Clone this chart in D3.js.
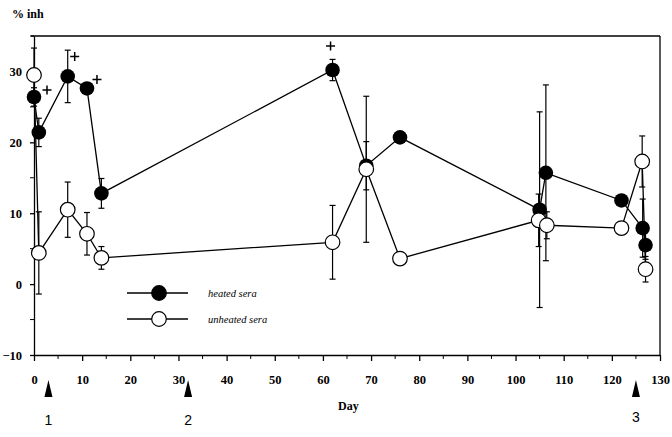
<!DOCTYPE html>
<html>
<head>
<meta charset="utf-8">
<script src="https://cdn.jsdelivr.net/npm/d3@7"></script>
<style>
  body { margin: 0; background: #fff; }
  svg { display: block; }
</style>
</head>
<body>
<svg id="chart" width="672" height="437"></svg>
<script>
// heated sera (filled)
const heatedDay = [0, 1, 7, 11, 14, 62, 69, 76, 105, 106.3, 122, 126.4, 127];
const heatedVal = [26.4, 21.4, 29.3, 27.6, 12.8, 30.2, 16.7, 20.7, 10.5, 15.7, 11.8, 7.9, 5.5];
const heatedErr = [1.3, 2.0, 3.7, 0, 2.1, 1.5, 3.4, 0, 13.8, 12.4, 0, 4.1, 2.0];

// unheated sera (open)
const unheatedDay = [0, 1, 7, 11, 14, 62, 69, 76, 104.8, 106.5, 122, 126.3, 127];
const unheatedVal = [29.5, 4.4, 10.5, 7.1, 3.7, 5.9, 16.2, 3.6, 9.0, 8.3, 7.9, 17.3, 2.1];
const unheatedErr = [3.8, 5.8, 3.9, 3.0, 1.6, 5.2, 10.3, 0, 3.7, 1.9, 0, 3.6, 1.8];

// significance marks on heated points
const plusDay = [0, 7, 11, 62];

// immunisation arrows
const arrowDay = [3, 32, 125];
const arrowLabel = ["1", "2", "3"];

const xTicks = d3.range(0, 131, 10);
const yTicks = [-10, 0, 10, 20, 30];

const svg = d3.select("#chart");
const serif = "Liberation Serif, Times New Roman, serif";

const x = d3.scaleLinear().domain([0, 130]).range([34, 660]);
const y = d3.scaleLinear().domain([-10, 35]).range([355, 36]);

const heated = heatedDay.map((d, i) => ({day: d, val: heatedVal[i], err: heatedErr[i]}));
const unheated = unheatedDay.map((d, i) => ({day: d, val: unheatedVal[i], err: unheatedErr[i]}));

// frame top / right
svg.append("line")
	.attr("x1", 31).attr("x2", x(130))
	.attr("y1", y(35)).attr("y2", y(35))
	.attr("stroke", "#000").attr("stroke-width", 1.3);
svg.append("line")
	.attr("x1", x(130)).attr("x2", x(130))
	.attr("y1", y(35)).attr("y2", y(-10))
	.attr("stroke", "#000").attr("stroke-width", 1.3);

// axes
const xAxis = svg.append("g")
	.attr("transform", `translate(0,${y(-10)})`)
	.call(d3.axisBottom(x).tickValues(xTicks).tickSize(6).tickSizeOuter(0).tickPadding(14));
xAxis.append("g").selectAll("line")
	.data(d3.range(5, 130, 10))
	.enter().append("line")
	.attr("x1", d => x(d)).attr("x2", d => x(d))
	.attr("y1", 0).attr("y2", 4)
	.attr("stroke", "#000");

const yAxis = svg.append("g")
	.attr("transform", `translate(${x(0)},0)`)
	.call(d3.axisLeft(y).tickValues(yTicks).tickSize(4).tickSizeOuter(0).tickPadding(8));
yAxis.append("g").selectAll("line")
	.data([-5, 5, 15, 25, 35])
	.enter().append("line")
	.attr("x1", -4).attr("x2", 0)
	.attr("y1", d => y(d)).attr("y2", d => y(d))
	.attr("stroke", "#000");

[xAxis, yAxis].forEach(a => a
	.attr("font-family", serif)
	.attr("font-weight", "bold")
	.attr("font-size", 12.5));
svg.selectAll(".domain, .tick line").attr("stroke-width", 1.3);
svg.selectAll(".tick text").attr("fill", "#000");

svg.append("text")
	.attr("x", 12).attr("y", 18)
	.attr("font-family", serif).attr("font-weight", "bold").attr("font-size", 12)
	.text("% inh");

svg.append("text")
	.attr("x", 338).attr("y", 410)
	.attr("font-family", serif).attr("font-weight", "bold").attr("font-size", 12)
	.text("Day");

// arrows
svg.append("g").selectAll("path")
	.data(arrowDay)
	.enter().append("path")
	.attr("d", d => `M${x(d)},380 L${x(d) + 4},397 L${x(d) - 4},397 Z`)
	.attr("fill", "#000");

svg.append("g").selectAll("text")
	.data(arrowDay)
	.enter().append("text")
	.attr("x", d => x(d))
	.attr("y", (d, i) => i === 2 ? 422 : 425)
	.attr("text-anchor", "middle")
	.attr("font-family", "Liberation Sans, Arial, sans-serif").attr("font-size", 14)
	.text((d, i) => arrowLabel[i]);

const line = d3.line().x(d => x(d.day)).y(d => y(d.val));

[heated, unheated].forEach(series => {
	svg.append("path")
		.datum(series)
		.attr("d", line)
		.attr("fill", "none")
		.attr("stroke", "#000")
		.attr("stroke-width", 1.3);
});

// error bars
[heated, unheated].forEach(series => {
	const eb = svg.append("g").selectAll("g")
		.data(series.filter(d => d.err > 0))
		.enter().append("g")
		.attr("stroke", "#000").attr("stroke-width", 1.2);
	eb.append("line")
		.attr("x1", d => x(d.day)).attr("x2", d => x(d.day))
		.attr("y1", d => y(d.val + d.err)).attr("y2", d => y(d.val - d.err));
	eb.append("line")
		.attr("x1", d => x(d.day) - 3).attr("x2", d => x(d.day) + 3)
		.attr("y1", d => y(d.val + d.err)).attr("y2", d => y(d.val + d.err));
	eb.append("line")
		.attr("x1", d => x(d.day) - 3).attr("x2", d => x(d.day) + 3)
		.attr("y1", d => y(d.val - d.err)).attr("y2", d => y(d.val - d.err));
});

svg.append("g").selectAll("circle")
	.data(heated)
	.enter().append("circle")
	.attr("cx", d => x(d.day)).attr("cy", d => y(d.val))
	.attr("r", 7.3)
	.attr("fill", "#000");

svg.append("g").selectAll("circle")
	.data(unheated)
	.enter().append("circle")
	.attr("cx", d => x(d.day)).attr("cy", d => y(d.val))
	.attr("r", 7.3)
	.attr("fill", "#fff").attr("stroke", "#000").attr("stroke-width", 1.2);

// "+" marks
const plusOffset = {0: [13, -7], 7: [7, -20], 11: [10, -9], 62: [-2, -24]};
svg.append("g").selectAll("path")
	.data(heated.filter(d => plusDay.includes(d.day)))
	.enter().append("path")
	.attr("d", d => {
		const cx = x(d.day) + plusOffset[d.day][0];
		const cy = y(d.val) + plusOffset[d.day][1];
		return `M${cx - 4.5},${cy} H${cx + 4.5} M${cx},${cy - 4.5} V${cy + 4.5}`;
	})
	.attr("stroke", "#000").attr("stroke-width", 1.5)
	.attr("fill", "none");

// legend
const legend = svg.append("g");
const legendItems = [{label: "heated sera", fill: "#000", y: 293}, {label: "unheated sera", fill: "#fff", y: 319}];
legendItems.forEach(item => {
	legend.append("line")
		.attr("x1", 127).attr("x2", 188)
		.attr("y1", item.y).attr("y2", item.y)
		.attr("stroke", "#000").attr("stroke-width", 1.3);
	legend.append("circle")
		.attr("cx", 159).attr("cy", item.y).attr("r", 7.3)
		.attr("fill", item.fill).attr("stroke", "#000").attr("stroke-width", 1.2);
	legend.append("text")
		.attr("x", 208).attr("y", item.y + 3.5)
		.attr("font-family", serif).attr("font-style", "italic").attr("font-size", 10.5)
		.text(item.label);
});
</script>
</body>
</html>
